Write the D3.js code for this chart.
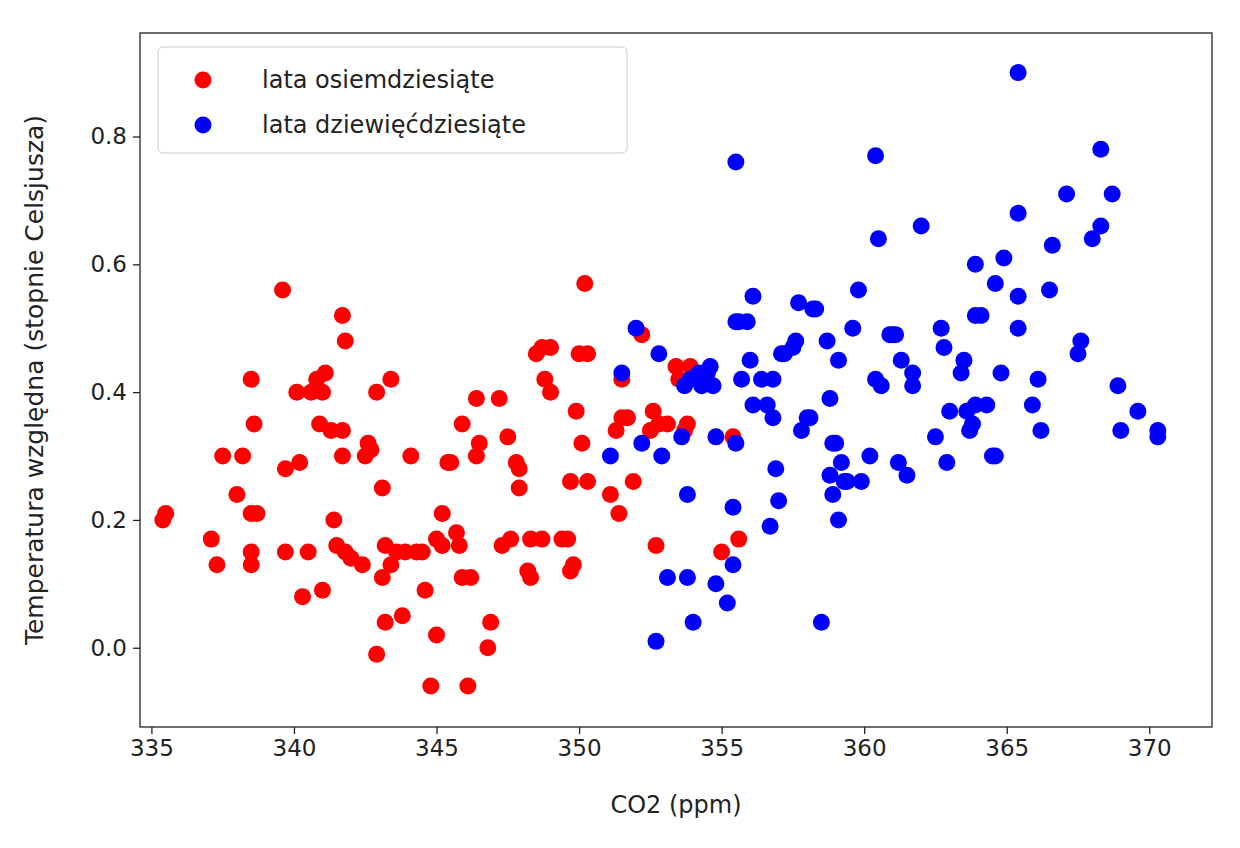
<!DOCTYPE html>
<html><head><meta charset="utf-8">
<script src="https://cdn.jsdelivr.net/npm/d3@7"></script>
<style>body{margin:0;background:#fff}text{font-family:"DejaVu Sans",sans-serif}</style>
</head><body><svg id="c" width="1240" height="848"></svg>
<script>
const red80s = [[335.4,0.20],[335.5,0.21],[337.1,0.17],[337.3,0.13],[337.5,0.30],[338.2,0.30],[338.0,0.24],[338.5,0.42],[338.5,0.21],[338.7,0.21],[338.6,0.35],[338.5,0.15],[338.5,0.13],[339.6,0.56],[339.7,0.15],[339.7,0.28],[340.1,0.40],[340.2,0.29],[340.3,0.08],[340.5,0.15],[340.6,0.40],[340.8,0.42],[341.0,0.40],[341.1,0.43],[340.9,0.35],[341.0,0.09],[341.3,0.34],[341.5,0.16],[341.4,0.20],[341.7,0.34],[341.7,0.52],[341.8,0.48],[341.7,0.30],[341.8,0.15],[342.0,0.14],[342.4,0.13],[342.5,0.30],[342.6,0.32],[342.7,0.31],[342.9,0.40],[343.1,0.25],[343.2,0.16],[343.4,0.42],[343.1,0.11],[342.9,-0.01],[343.2,0.04],[343.4,0.13],[343.6,0.15],[343.8,0.05],[343.9,0.15],[344.1,0.30],[344.3,0.15],[344.5,0.15],[344.6,0.09],[345.0,0.17],[345.2,0.21],[345.2,0.16],[345.0,0.02],[344.8,-0.06],[345.4,0.29],[345.5,0.29],[345.7,0.18],[345.9,0.11],[345.8,0.16],[345.9,0.35],[346.1,-0.06],[346.2,0.11],[346.4,0.39],[346.4,0.30],[346.5,0.32],[346.8,0.00],[346.9,0.04],[347.2,0.39],[347.3,0.16],[347.5,0.33],[347.6,0.17],[347.8,0.29],[347.9,0.25],[347.9,0.28],[348.2,0.12],[348.3,0.11],[348.3,0.17],[348.5,0.46],[348.7,0.17],[348.7,0.47],[348.8,0.42],[349.0,0.40],[349.0,0.47],[349.4,0.17],[349.6,0.17],[349.7,0.12],[349.9,0.37],[349.8,0.13],[350.1,0.32],[350.2,0.57],[350.3,0.46],[350.0,0.46],[350.3,0.26],[349.7,0.26],[351.1,0.24],[351.4,0.21],[351.5,0.42],[351.5,0.36],[351.3,0.34],[351.7,0.36],[351.9,0.26],[352.2,0.49],[352.5,0.34],[352.6,0.37],[352.7,0.16],[352.8,0.35],[353.1,0.35],[353.4,0.44],[353.5,0.42],[353.7,0.34],[353.8,0.35],[353.9,0.44],[355.0,0.15],[355.4,0.33],[355.6,0.17]];
const blue90s = [[351.1,0.30],[351.5,0.43],[352.0,0.50],[352.2,0.32],[352.8,0.46],[352.9,0.30],[352.7,0.01],[353.1,0.11],[353.6,0.33],[353.7,0.41],[353.8,0.24],[353.8,0.11],[353.9,0.42],[354.0,0.04],[354.2,0.43],[354.3,0.41],[354.5,0.43],[354.6,0.44],[354.7,0.41],[354.8,0.10],[354.8,0.33],[355.2,0.07],[355.4,0.22],[355.4,0.13],[355.5,0.51],[355.5,0.32],[355.5,0.76],[355.6,0.51],[355.7,0.42],[355.9,0.51],[356.0,0.45],[356.1,0.55],[356.1,0.38],[356.4,0.42],[356.6,0.38],[356.7,0.19],[356.8,0.42],[356.8,0.36],[356.9,0.28],[357.0,0.23],[357.1,0.46],[357.2,0.46],[357.5,0.47],[357.6,0.48],[357.7,0.54],[357.8,0.34],[358.0,0.36],[358.1,0.36],[358.2,0.53],[358.3,0.53],[358.5,0.04],[358.7,0.48],[358.8,0.39],[358.8,0.27],[358.9,0.24],[358.9,0.32],[359.0,0.32],[359.1,0.20],[359.1,0.45],[359.2,0.29],[359.3,0.26],[359.4,0.26],[359.6,0.50],[359.8,0.56],[359.9,0.26],[360.2,0.30],[360.4,0.42],[360.4,0.77],[360.5,0.64],[360.6,0.41],[360.9,0.49],[361.0,0.49],[361.1,0.49],[361.3,0.45],[361.2,0.29],[361.5,0.27],[361.7,0.43],[361.7,0.41],[362.0,0.66],[362.5,0.33],[362.7,0.50],[362.8,0.47],[362.9,0.29],[363.0,0.37],[363.4,0.43],[363.5,0.45],[363.6,0.37],[363.7,0.34],[363.8,0.35],[363.9,0.38],[363.9,0.52],[363.9,0.60],[364.1,0.52],[364.3,0.38],[364.5,0.30],[364.6,0.57],[364.6,0.30],[364.8,0.43],[364.9,0.61],[365.4,0.50],[365.4,0.90],[365.4,0.68],[365.4,0.55],[365.9,0.38],[366.1,0.42],[366.2,0.34],[366.5,0.56],[366.6,0.63],[367.1,0.71],[367.5,0.46],[367.6,0.48],[368.0,0.64],[368.3,0.78],[368.3,0.66],[368.7,0.71],[368.9,0.41],[369.0,0.34],[369.6,0.37],[370.3,0.34],[370.3,0.33]];
const xTicks = [335,340,345,350,355,360,365,370];
const yTicks = [0.0,0.2,0.4,0.6,0.8];
const seriesNames = ["lata osiemdziesiąte","lata dziewięćdziesiąte"];
const colors = ["#ff0000","#0000ff"];

const svg = d3.select("#c");
const L=140,R=1212,T=33,B=727;
const x = d3.scaleLinear().domain([334.6,372.2]).range([L,R]);
const y = d3.scaleLinear().domain([-0.124,0.962]).range([B,T]);

[red80s,blue90s].forEach((s,i)=>{
  svg.append("g").selectAll("circle").data(s).join("circle")
    .attr("cx",d=>x(d[0])).attr("cy",d=>y(d[1])).attr("r",8.5).attr("fill",colors[i]);
});

const xa = svg.append("g").attr("transform",`translate(0,${B})`)
  .call(d3.axisBottom(x).tickValues(xTicks).tickFormat(d3.format("d")).tickSize(7).tickPadding(6));
const ya = svg.append("g").attr("transform",`translate(${L},0)`)
  .call(d3.axisLeft(y).tickValues(yTicks).tickFormat(d3.format(".1f")).tickSize(7).tickPadding(6));
[xa,ya].forEach(a=>{a.selectAll("text").attr("font-size",23).attr("fill","#222");a.select(".domain").remove();a.selectAll("line").attr("stroke","#222").attr("stroke-width",1.3);});
svg.append("rect").attr("x",L).attr("y",T).attr("width",R-L).attr("height",B-T).attr("fill","none").attr("stroke","#222").attr("stroke-width",1.3);

svg.append("text").attr("x",(L+R)/2).attr("y",813).attr("text-anchor","middle").attr("font-size",24).attr("fill","#222").text("CO2 (ppm)");
svg.append("text").attr("transform",`translate(43,${(T+B)/2}) rotate(-90)`).attr("text-anchor","middle").attr("font-size",25).attr("fill","#222").text("Temperatura względna (stopnie Celsjusza)");

const lg = svg.append("g");
lg.append("rect").attr("x",158).attr("y",47).attr("width",469).attr("height",106).attr("rx",5).attr("fill","#fff").attr("stroke","#ccc");
seriesNames.forEach((n,i)=>{
  const yy = 80+i*45;
  lg.append("circle").attr("cx",203).attr("cy",yy).attr("r",8.5).attr("fill",colors[i]);
  lg.append("text").attr("x",262).attr("y",yy+8).attr("font-size",24).attr("fill","#222").text(n);
});
</script></body></html>
